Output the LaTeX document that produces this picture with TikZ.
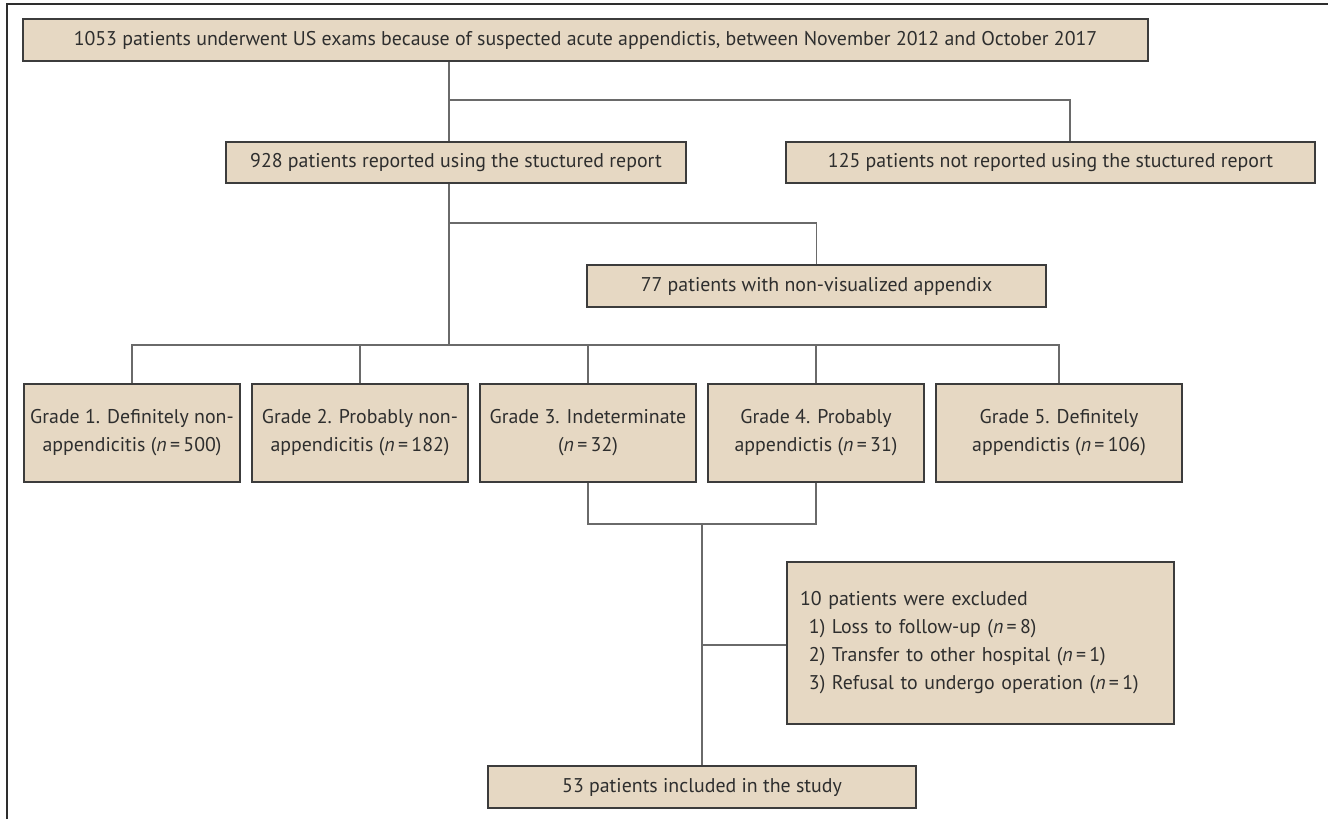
\documentclass[tikz,border=0pt]{standalone}
\usepackage{fontspec}
\setmainfont{PT Sans}
\usetikzlibrary{calc}
\definecolor{boxfill}{HTML}{E6D8C3}
\definecolor{boxline}{HTML}{3C3C3C}
\definecolor{connline}{HTML}{6A6A6A}
\definecolor{txt}{HTML}{2E2E2E}
\newcommand{\nn}{\textit{n}\,=\,}
\begin{document}
\begin{tikzpicture}[x=0.75pt,y=-0.75pt,
  box/.style={draw=boxline,fill=boxfill,line width=0.8pt,inner sep=0pt,align=center,text=txt,font=\fontsize{14.9}{21}\selectfont},
  conn/.style={draw=connline,line width=1.1pt},
  frame/.style={draw=txt,line width=1.2pt}]
\useasboundingbox (0,0) rectangle (1328,819);
\draw[frame] (7,819) -- (7,4) -- (1328,4);
\node[box,minimum width=1125*0.75pt,minimum height=42*0.75pt] (top) at (585.5,40) {1053 patients underwent US exams because of suspected acute appendictis, between November 2012 and October 2017};
\node[box,minimum width=460*0.75pt,minimum height=41*0.75pt] (r928) at (456,162.5) {928 patients reported using the stuctured report};
\node[box,minimum width=529*0.75pt,minimum height=41*0.75pt] (r125) at (1050.5,162.5) {125 patients not reported using the stuctured report};
\node[box,minimum width=459*0.75pt,minimum height=42*0.75pt] (r77) at (816.5,286) {77 patients with non-visualized appendix};
\node[box,minimum width=216*0.75pt,minimum height=98*0.75pt] (g1) at (132,433) {Grade 1. Definitely non-\\appendicitis (\nn500)};
\node[box,minimum width=216*0.75pt,minimum height=98*0.75pt] (g2) at (360,433) {Grade 2. Probably non-\\appendicitis (\nn182)};
\node[box,minimum width=216*0.75pt,minimum height=98*0.75pt] (g3) at (588,433) {Grade 3. Indeterminate\\(\nn32)};
\node[box,minimum width=216*0.75pt,minimum height=98*0.75pt] (g4) at (816,433) {Grade 4. Probably\\appendictis (\nn31)};
\node[box,minimum width=246*0.75pt,minimum height=98*0.75pt] (g5) at (1059,433) {Grade 5. Definitely\\appendictis (\nn106)};
\node[box,minimum width=387*0.75pt,minimum height=162*0.75pt,align=left,text width=387*0.75pt-26*0.75pt] (excl) at (980.5,643) {10 patients were excluded\\
\hspace*{0.45em}1) Loss to follow-up (\nn8)\\
\hspace*{0.45em}2) Transfer to other hospital (\nn1)\\
\hspace*{0.45em}3) Refusal to undergo operation (\nn1)};
\node[box,minimum width=428*0.75pt,minimum height=42*0.75pt] (r53) at (702,787) {53 patients included in the study};
\coordinate (j1) at (449,100);
\coordinate (k125) at (1070,100);
\coordinate (j2) at (449,223);
\coordinate (j3) at (449,345);
\coordinate (j4) at (702,524);
\coordinate (j5) at (702,645);
\draw[conn] (top.south -| j1) -- (r928.north -| j1);
\draw[conn] (j1) -- (k125) -- (k125 |- r125.north);
\draw[conn] (r928.south -| j1) -- (j3);
\draw[conn] (j2) -| (r77.north);
\draw[conn] (g1.north) |- (g5.north |- j3) -- (g5.north);
\draw[conn] (g2.north) -- (g2.north |- j3);
\draw[conn] (g3.north) -- (g3.north |- j3);
\draw[conn] (g4.north) -- (g4.north |- j3);
\draw[conn] (g3.south) |- (j4) -| (g4.south);
\draw[conn] (j4) -- (r53.north);
\draw[conn] (j5) -- (j5 -| excl.west);
\end{tikzpicture}
\end{document}
